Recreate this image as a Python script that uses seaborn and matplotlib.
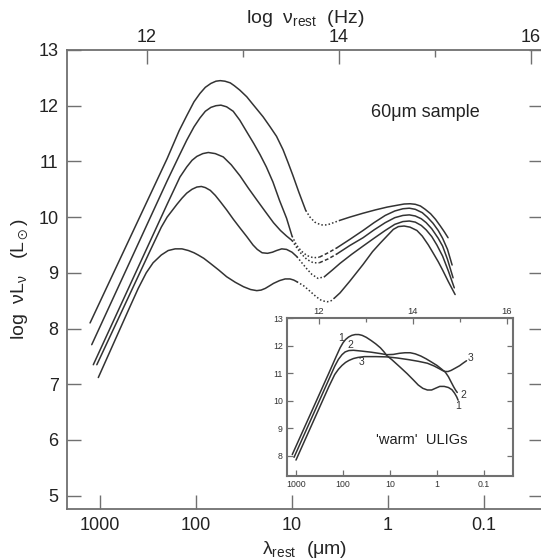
import numpy as np
import pandas as pd
import matplotlib
matplotlib.use('Agg')
import matplotlib.pyplot as plt
import seaborn as sns
from matplotlib.ticker import FixedLocator, NullLocator

# lambda*nu product used for the top (frequency) axis, as drawn in the original figure
NU_LAM = 3.25e14

# ---- main panel: 60um sample, five SEDs (far-IR solid / mid-IR dotted / near-IR solid)
s1_fir_lam = [1270, 200, 150, 125, 105, 91, 80, 70, 62, 56, 50, 44, 40, 35, 29.6, 26, 23.3, 20, 16.9,
              14.5, 12.4, 11, 9.8, 8.5, 7.2]
s1_fir = [8.10, 11.05, 11.55, 11.82, 12.07, 12.22, 12.33, 12.40, 12.44, 12.45, 12.44, 12.41, 12.36, 12.28,
          12.16, 12.04, 11.94, 11.80, 11.62, 11.45, 11.21, 10.98, 10.75, 10.45, 10.12]
s1_gap_lam = [7.2, 6.5, 5.8, 5.0, 4.3, 3.7, 3.2]
s1_gap = [10.12, 10.0, 9.91, 9.86, 9.86, 9.90, 9.94]
s1_nir_lam = [3.2, 2.5, 1.82, 1.35, 1.02, 0.82, 0.68, 0.59, 0.52, 0.46, 0.41, 0.36, 0.32, 0.285, 0.26, 0.237]
s1_nir = [9.94, 10.0, 10.07, 10.13, 10.18, 10.21, 10.235, 10.24, 10.23, 10.20, 10.14, 10.06, 9.96, 9.84,
          9.74, 9.63]

s2_fir_lam = [1220, 200, 150, 125, 105, 91, 80, 70, 62, 55, 48, 41, 35, 29.6, 25, 21.5, 18.5, 15.8, 13.5,
              11.4, 10.0]
s2_fir = [7.71, 10.65, 11.10, 11.38, 11.62, 11.78, 11.90, 11.97, 12.0, 12.01, 11.98, 11.90, 11.74, 11.53,
          11.32, 11.12, 10.90, 10.63, 10.30, 9.98, 9.66]
s2_gap_lam = [10.0, 9.0, 8.0, 7.0, 6.0, 5.2]
s2_gap = [9.66, 9.50, 9.39, 9.31, 9.27, 9.28]
s2_dash_lam = [5.2, 4.2, 3.4]
s2_dash = [9.28, 9.36, 9.45]
s2_nir_lam = [3.4, 2.5, 1.82, 1.4, 1.07, 0.85, 0.7, 0.6, 0.52, 0.44, 0.39, 0.34, 0.30, 0.27, 0.24, 0.215]
s2_nir = [9.45, 9.60, 9.76, 9.90, 10.03, 10.11, 10.15, 10.16, 10.14, 10.08, 10.0, 9.89, 9.76, 9.62, 9.42,
          9.14]

s3_fir_lam = [1175, 200, 147, 125, 110, 98, 85, 74.5, 63, 52, 43, 34.8, 28.5, 23.3, 19, 15.6, 13.2, 11.4, 10.0]
s3_fir = [7.35, 10.23, 10.72, 10.90, 11.02, 11.09, 11.14, 11.16, 11.14, 11.08, 10.94, 10.74, 10.52, 10.31,
          10.10, 9.90, 9.76, 9.66, 9.58]
s3_gap_lam = [10.0, 9.0, 8.0, 7.0, 6.0, 5.2]
s3_gap = [9.58, 9.46, 9.34, 9.24, 9.18, 9.18]
s3_dash_lam = [5.2, 4.2, 3.4]
s3_dash = [9.18, 9.25, 9.34]
s3_nir_lam = [3.4, 2.5, 1.82, 1.4, 1.07, 0.85, 0.7, 0.6, 0.52, 0.45, 0.4, 0.35, 0.30, 0.27, 0.24, 0.21]
s3_nir = [9.34, 9.49, 9.63, 9.77, 9.90, 9.99, 10.03, 10.04, 10.02, 9.97, 9.90, 9.79, 9.62, 9.48, 9.24, 8.91]

s4_fir_lam = [1080, 300, 230, 200, 175, 158, 140, 125, 110, 98, 88, 80, 71, 63, 56, 48, 40.8, 35, 29.6,
              25.5, 23, 20.5, 18, 16, 14.5, 12.8, 11.4, 10, 8.9]
s4_fir = [7.35, 9.40, 9.82, 10.0, 10.13, 10.23, 10.34, 10.43, 10.50, 10.54, 10.55, 10.53, 10.48, 10.39,
          10.28, 10.13, 9.96, 9.81, 9.65, 9.50, 9.42, 9.36, 9.35, 9.37, 9.40, 9.43, 9.42, 9.37, 9.29]
s4_gap_lam = [8.9, 7.9, 7.0, 6.2, 5.36, 4.6]
s4_gap = [9.29, 9.18, 9.07, 8.97, 8.90, 8.93]
s4_nir_lam = [4.6, 3.8, 3.16, 2.4, 1.82, 1.4, 1.07, 0.85, 0.7, 0.6, 0.52, 0.45, 0.4, 0.35, 0.31, 0.27,
              0.235, 0.204]
s4_nir = [8.93, 9.05, 9.17, 9.33, 9.48, 9.62, 9.76, 9.87, 9.92, 9.93, 9.91, 9.85, 9.77, 9.65, 9.50, 9.30,
          9.03, 8.73]

s5_fir_lam = [1042, 500, 400, 330, 280, 230, 195, 165, 140, 120, 105, 95, 83, 71, 58, 48, 39, 32, 27, 23.3,
              21, 19, 17, 15.6, 13.5, 11.8, 10.5, 9.6, 8.9]
s5_fir = [7.12, 8.35, 8.72, 9.0, 9.18, 9.32, 9.40, 9.43, 9.43, 9.40, 9.36, 9.32, 9.26, 9.17, 9.05, 8.93,
          8.83, 8.75, 8.70, 8.68, 8.69, 8.72, 8.77, 8.81, 8.86, 8.89, 8.89, 8.87, 8.84]
s5_gap_lam = [8.9, 7.6, 6.5, 5.6, 4.9, 4.3, 3.9, 3.6]
s5_gap = [8.84, 8.77, 8.67, 8.57, 8.50, 8.48, 8.50, 8.55]
s5_nir_lam = [3.6, 3.16, 2.5, 1.82, 1.45, 1.21, 1.0, 0.88, 0.78, 0.68, 0.59, 0.5, 0.44, 0.38, 0.34, 0.3,
              0.27, 0.235, 0.2]
s5_nir = [8.55, 8.64, 8.85, 9.15, 9.38, 9.53, 9.68, 9.78, 9.83, 9.84, 9.82, 9.76, 9.66, 9.50, 9.36, 9.20,
          9.05, 8.84, 8.61]

# ---- inset: 'warm' ULIGs
w1_lam = [1200, 200, 140, 115, 100, 88, 76, 65, 55, 46, 39, 32, 25, 20, 16, 13.5, 11.7, 9, 6.1, 4.3,
          3.16, 2.5, 2.0, 1.6, 1.3, 1.05, 0.87, 0.7, 0.57, 0.48, 0.42, 0.38, 0.355]
w1 = [8.05, 11.0, 11.6, 11.92, 12.1, 12.22, 12.31, 12.37, 12.4, 12.4, 12.37, 12.3, 12.18, 12.06, 11.92,
      11.78, 11.64, 11.48, 11.22, 10.98, 10.75, 10.57, 10.45, 10.39, 10.39, 10.46, 10.52, 10.52, 10.48,
      10.40, 10.27, 10.14, 10.02]
w2_lam = [1100, 200, 150, 125, 105, 90, 75, 60, 40, 25, 16, 11.7, 8.5, 6.3, 4.8, 3.7, 2.9, 2.2, 1.7, 1.3,
          1.0, 0.8, 0.66, 0.57, 0.5, 0.44, 0.40, 0.37]
w2 = [7.95, 10.77, 11.25, 11.50, 11.67, 11.77, 11.82, 11.83, 11.80, 11.76, 11.71, 11.67, 11.68, 11.72,
      11.74, 11.74, 11.70, 11.62, 11.52, 11.40, 11.28, 11.15, 11.03, 10.87, 10.68, 10.50, 10.38, 10.30]
w3_lam = [1000, 200, 150, 125, 105, 88, 75, 60, 48, 35, 20, 11.7, 7, 4.0, 2.5, 1.6, 1.15, 0.89, 0.75,
          0.66, 0.58, 0.5, 0.41, 0.33, 0.28, 0.235]
w3 = [7.85, 10.51, 10.95, 11.14, 11.28, 11.39, 11.46, 11.53, 11.57, 11.60, 11.60, 11.59, 11.55, 11.49,
      11.43, 11.36, 11.26, 11.16, 11.09, 11.06, 11.06, 11.10, 11.18, 11.27, 11.36, 11.45]
w_lab_txt = ['1', '2', '3', '3', '2', '1']
w_lab_lam = [107, 71, 40, 0.19, 0.275, 0.355]
w_lab_y = [12.26, 12.02, 11.42, 11.54, 10.21, 9.81]

lam_ticks = [1000, 100, 10, 1, 0.1]
lam_labels = ['1000', '100', '10', '1', '0.1']
nu_ticks = [12, 14, 16]
nu_minor = [13, 15]

sns.set_style('ticks')
plt.rcParams['font.family'] = ['Liberation Sans', 'DejaVu Sans']
plt.rcParams['mathtext.fontset'] = 'custom'
plt.rcParams['mathtext.rm'] = 'Liberation Sans'
plt.rcParams['mathtext.it'] = 'Liberation Sans:italic'
plt.rcParams['mathtext.default'] = 'regular'

LINE = '#333333'
SPINE = '#707070'


def draw(ax, lam, lum, ls='-'):
    sns.lineplot(x=lam, y=lum, ax=ax, color=LINE, lw=1.1, linestyle=ls,
                 sort=False, estimator=None)


fig = plt.figure(figsize=(5.41, 5.59), dpi=100)
ax = fig.add_axes([67/541, 1-509/559, (543-67)/541, (509-50)/559])

dots = (0, (1, 1.4))
dashes = (0, (2.5, 1.5))
for fl, f, gl, g, nl, n in [(s1_fir_lam, s1_fir, s1_gap_lam, s1_gap, s1_nir_lam, s1_nir),
                            (s2_fir_lam, s2_fir, s2_gap_lam, s2_gap, s2_nir_lam, s2_nir),
                            (s3_fir_lam, s3_fir, s3_gap_lam, s3_gap, s3_nir_lam, s3_nir),
                            (s4_fir_lam, s4_fir, s4_gap_lam, s4_gap, s4_nir_lam, s4_nir),
                            (s5_fir_lam, s5_fir, s5_gap_lam, s5_gap, s5_nir_lam, s5_nir)]:
    draw(ax, fl, f)
    draw(ax, gl, g, dots)
    draw(ax, nl, n)
draw(ax, s2_dash_lam, s2_dash, dashes)
draw(ax, s3_dash_lam, s3_dash, dashes)

ax.set_xscale('log')
ax.set_xlim(2208, 0.0243)
ax.set_ylim(4.76, 13)
ax.xaxis.set_major_locator(FixedLocator(lam_ticks))
ax.xaxis.set_minor_locator(NullLocator())
ax.set_xticklabels(lam_labels)
ax.set_yticks(range(5, 14))
ax.tick_params(direction='in', length=10, width=1, color=SPINE, labelsize=13,
               pad=6, right=True, top=False, labelcolor='#222222')
ax.set_xlabel(r'$\lambda_{\rm rest}$  ($\mu$m)', fontsize=14, labelpad=3)
ax.set_ylabel(r'log  $\nu$L$_\nu$   (L$_\odot$)', fontsize=14, labelpad=6)
ax.text(0.41, 11.87, '60μm sample', ha='center', va='center', fontsize=13, color='#222222')
for sp in ax.spines.values():
    sp.set_color(SPINE)
    sp.set_linewidth(1.3)

top = ax.twiny()
top.set_xscale('log')
top.set_xlim(ax.get_xlim())
top.xaxis.set_major_locator(FixedLocator([NU_LAM / 10**v for v in nu_ticks]))
top.xaxis.set_minor_locator(FixedLocator([NU_LAM / 10**v for v in nu_minor]))
top.set_xticklabels([str(v) for v in nu_ticks])
top.tick_params(which='major', direction='in', length=10, width=1, color=SPINE,
                labelsize=13, pad=3, labelcolor='#222222')
top.tick_params(which='minor', direction='in', length=5, width=1, color=SPINE)
top.set_xlabel(r'log  $\nu_{\rm rest}$  (Hz)', fontsize=14, labelpad=4)
for sp in top.spines.values():
    sp.set_visible(False)

# ---- inset
axi = fig.add_axes([287/541, 1-475.5/559, 226/541, 157.5/559])
axi.set_facecolor('white')
draw(axi, w1_lam, w1)
draw(axi, w2_lam, w2)
draw(axi, w3_lam, w3)
for t, xl, yl in zip(w_lab_txt, w_lab_lam, w_lab_y):
    axi.text(xl, yl, t, fontsize=7.5, ha='center', va='center', color='#333333')
axi.text(2.1, 8.58, "'warm'  ULIGs", fontsize=10.5, ha='center', va='center', color='#222222')
axi.set_xscale('log')
axi.set_xlim(1553, 0.0241)
axi.set_ylim(7.29, 13)
axi.xaxis.set_major_locator(FixedLocator(lam_ticks))
axi.xaxis.set_minor_locator(NullLocator())
axi.set_xticklabels(lam_labels)
axi.set_yticks(range(8, 14))
axi.tick_params(direction='in', length=4.5, width=0.9, color=SPINE, labelsize=6.3,
                pad=3, right=True, top=False, labelcolor='#333333')
for sp in axi.spines.values():
    sp.set_color(SPINE)
    sp.set_linewidth(1.5)

topi = axi.twiny()
topi.set_xscale('log')
topi.set_xlim(axi.get_xlim())
topi.xaxis.set_major_locator(FixedLocator([NU_LAM / 10**v for v in nu_ticks]))
topi.xaxis.set_minor_locator(FixedLocator([NU_LAM / 10**v for v in nu_minor]))
topi.set_xticklabels([str(v) for v in nu_ticks])
topi.tick_params(which='major', direction='in', length=4.5, width=0.9, color=SPINE,
                 labelsize=6.8, pad=1.5, labelcolor='#333333')
topi.tick_params(which='minor', direction='in', length=3, width=0.9, color=SPINE)
for sp in topi.spines.values():
    sp.set_visible(False)

fig.savefig('out.png', dpi=100)
